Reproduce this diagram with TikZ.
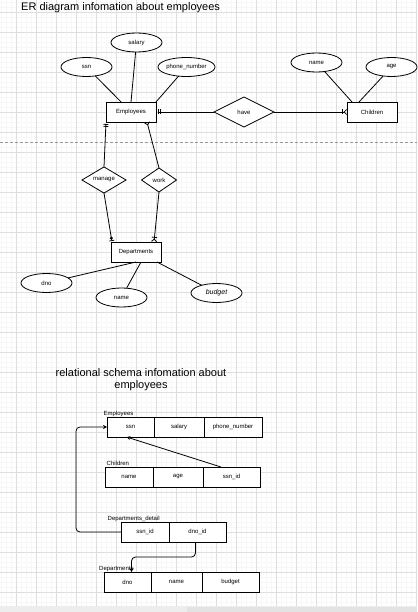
\documentclass[tikz,border=0pt]{standalone}
\usepackage{fontspec}
\setmainfont{Liberation Sans}
\usetikzlibrary{arrows.meta,shapes.geometric}

\begin{document}
\begin{tikzpicture}[x=1pt,y=-1pt,
entity/.style={draw,line width=0.8pt,fill=white,minimum width=50pt,minimum height=20pt,inner sep=0pt,outer sep=0pt,font=\fontsize{6}{7}\selectfont},
attr/.style={ellipse,draw,line width=0.8pt,fill=white,minimum width=51pt,minimum height=19pt,inner sep=0pt,outer sep=0pt,font=\fontsize{6}{7}\selectfont},
rel/.style={diamond,draw,line width=0.8pt,fill=white,inner sep=0pt,outer sep=0pt,font=\fontsize{6}{7}\selectfont},
link/.style={line width=0.8pt},
cell/.style={draw,line width=0.8pt,fill=white,minimum height=20pt,inner sep=0pt,outer sep=0pt,font=\fontsize{6}{7}\selectfont},
tlabel/.style={anchor=base west,inner sep=0pt,font=\fontsize{6}{7}\selectfont},
heading/.style={inner sep=0pt,font=\fontsize{11}{12}\selectfont},
fk/.style={line width=0.8pt,-{Stealth[length=4pt,width=4pt]}},
gridminor/.style={black!3,line width=0.5pt},
gridmajor/.style={black!13,line width=0.6pt},
mandone/.tip={Bar[width=5pt,sep=1.2pt]Bar[width=5pt,sep=2pt]},
onemany/.tip={Bar[width=5pt,sep=0.8pt]Straight Barb[reversed,length=2.5pt,width=5pt]},
crowfoot/.tip={Straight Barb[reversed,length=2.5pt,width=5pt]},
zeroone/.tip={Circle[open,length=3pt,width=3pt,sep=0.5pt]Bar[width=5pt,sep=1pt]}]
\useasboundingbox (0,0) rectangle (417,612);
\fill[white] (0,0) rectangle (417,606);
\foreach \gx in {1,6,...,416} \draw[gridminor] (\gx,0) -- (\gx,606);
\foreach \gy in {2.5,7.5,...,605} \draw[gridminor] (0,\gy) -- (417,\gy);
\foreach \gx in {16,36,...,416} \draw[gridmajor] (\gx,0) -- (\gx,606);
\foreach \gy in {12.5,32.5,...,605} \draw[gridmajor] (0,\gy) -- (417,\gy);
\fill[black!7] (0,606) rectangle (417,612);
\fill[black!11] (187,607) rectangle (417,612);
\draw[black!40,line width=0.6pt,dash pattern=on 3pt off 2pt] (0,142) -- (417,142);

\node[heading,anchor=west] (ertitle) at (21,8) {ER diagram infomation about employees};
\node[attr] (salary) at (136.5,42.5) {salary};
\node[attr] (essn) at (86.5,67) {ssn};
\node[attr] (phone) at (186.5,67) {phone\_number};
\node[attr] (cname) at (316.5,62.5) {name};
\node[attr] (cage) at (391.5,67) {age};
\node[entity] (emp) at (131,112) {Employees};
\node[rel,minimum width=60pt,minimum height=30pt] (have) at (244,112) {have};
\node[entity] (child) at (372,112) {Children};
\node[rel,minimum width=44pt,minimum height=24pt] (manage) at (104,180) {manage};
\node[rel,minimum width=35pt,minimum height=24pt] (work) at (159,180) {work};
\node[entity] (dept) at (136,252) {Departments};
\node[attr] (dno) at (46.5,283) {dno};
\node[attr] (dname) at (121.5,297.5) {name};
\node[attr,font=\fontsize{7}{8}\selectfont\itshape] (budget) at (216.5,293) {budget};
\draw[link] (essn) -- (emp);
\draw[link] (salary) -- (emp.north);
\draw[link] (phone) -- (emp.north east);
\draw[link] (cname) -- ([xshift=5pt]child.north west);
\draw[link] (cage) -- ([xshift=12pt]child.north west);
\draw[link,{mandone}-] (emp.east) -- (have.west);
\draw[link,-{onemany}] (have.east) -- (child.west);
\draw[link,{mandone}-] (emp.south west) -- (manage.north);
\draw[link,-{zeroone}] (manage.south) -- ([xshift=1pt]dept.north west);
\draw[link,-{crowfoot}] (work.north) -- ([xshift=-9pt]emp.south east);
\draw[link,-{onemany}] (work.south) -- ([xshift=-7pt]dept.north east);
\draw[link] (dno) -- (dept.south);
\draw[link] (dname) -- ([xshift=5pt]dept.south);
\draw[link] (budget) -- ([xshift=-4pt]dept.south east);

\node[heading,align=center] (rstitle) at (141,380) {relational schema infomation about\\employees};
\node[tlabel] (lemp) at (103.5,415) {Employees};
\node[cell,minimum width=47pt] (e_ssn) at (130.5,427) {ssn};
\node[cell,minimum width=50pt] (e_salary) at (179,427) {salary};
\node[cell,minimum width=58pt] (e_phone) at (233,427) {phone\_number};
\node[tlabel] (lchild) at (106.5,465) {Children};
\node[cell,minimum width=48pt] (c_name) at (129,477) {name};
\node[cell,minimum width=50pt] (c_age) at (178,477) {age};
\node[cell,minimum width=57pt] (c_ssnid) at (231.5,477) {ssn\_id};
\node[tlabel] (ldd) at (107.5,520) {Departments\_detail};
\node[cell,minimum width=48pt] (dd_ssnid) at (145,532) {ssn\_id};
\node[cell,minimum width=57pt] (dd_dnoid) at (197.5,532) {dno\_id};
\node[tlabel] (ldept) at (99,570) {Departments};
\node[cell,minimum width=47pt] (d_dno) at (127.5,582) {dno};
\node[cell,minimum width=51pt] (d_name) at (176.5,582) {name};
\node[cell,minimum width=57pt] (d_budget) at (230.5,582) {budget};
\coordinate (ddturn) at (160,557);
\draw[fk] ([xshift=18pt]c_ssnid.north west) -- ([xshift=-4pt]e_ssn.south);
\draw[fk,rounded corners=4pt] (dd_ssnid.west) -| ([xshift=-31pt]e_ssn.west) -- (e_ssn.west);
\draw[fk,rounded corners=4pt] ([xshift=-2pt]dd_dnoid.south) |- (ddturn) -| ([xshift=4pt]d_dno.north);
\end{tikzpicture}
\end{document}
